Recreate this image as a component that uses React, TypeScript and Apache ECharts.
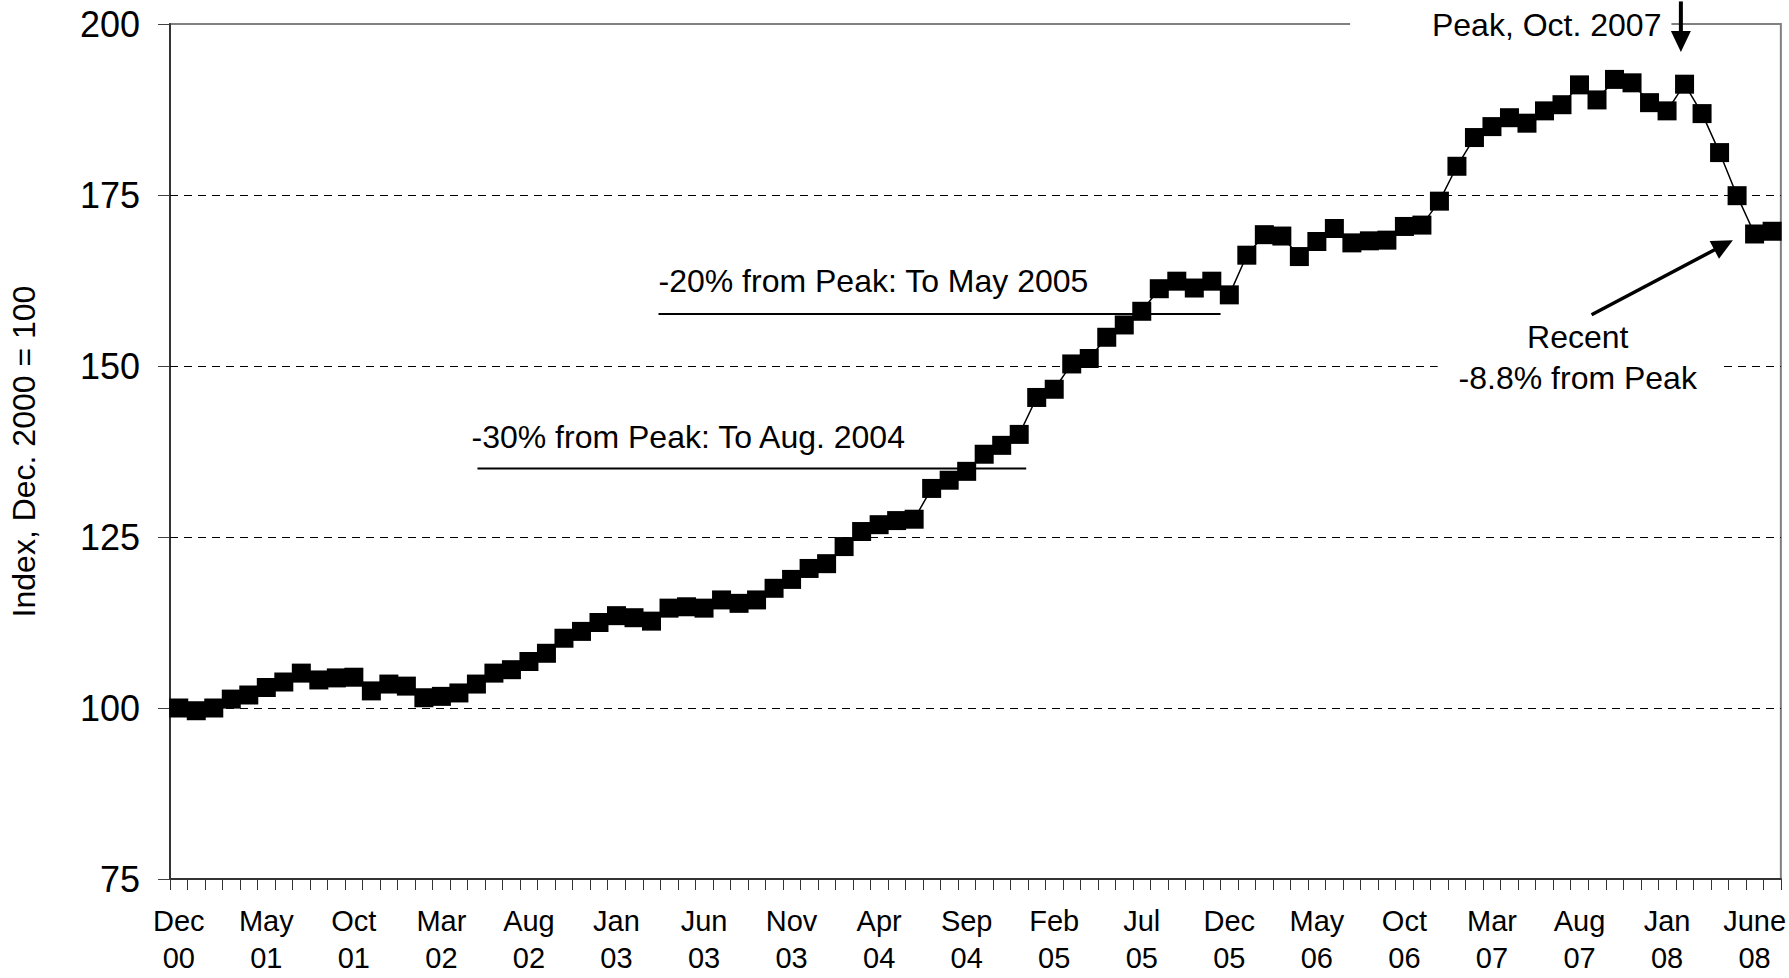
import React, { useEffect, useRef } from "react";
import * as echarts from "echarts";

const FONT = '"Liberation Sans", Arial, Helvetica, sans-serif';

const MONTHS = ["Jan", "Feb", "Mar", "Apr", "May", "Jun", "Jul", "Aug", "Sep", "Oct", "Nov", "Dec"];
// Monthly categories, Dec 2000 .. Jul 2008
const categories = Array.from(
  { length: 92 },
  (_, i) => `${MONTHS[(11 + i) % 12]} ${String(Math.floor((11 + i) / 12)).padStart(2, "0")}`
);

// Tick labels shown every 5th month
const tickLabels = [
  "Dec\n00", "May\n01", "Oct\n01", "Mar\n02", "Aug\n02", "Jan\n03", "Jun\n03",
  "Nov\n03", "Apr\n04", "Sep\n04", "Feb\n05", "Jul\n05", "Dec\n05", "May\n06",
  "Oct\n06", "Mar\n07", "Aug\n07", "Jan\n08", "June\n08",
];

// Index, Dec. 2000 = 100
const indexValues = [
  100.0, 99.6, 100.0, 101.3, 101.9, 103.0, 103.8, 105.1, 104.1, 104.4,
  104.5, 102.5, 103.5, 103.2, 101.5, 101.7, 102.2, 103.5, 105.1, 105.6,
  106.8, 108.0, 110.2, 111.2, 112.5, 113.5, 113.2, 112.7, 114.6, 114.8,
  114.6, 115.8, 115.3, 115.8, 117.5, 118.8, 120.4, 121.1, 123.6, 125.8,
  126.8, 127.4, 127.6, 132.1, 133.3, 134.6, 137.1, 138.4, 140.0, 145.4,
  146.6, 150.3, 151.1, 154.2, 156.0, 158.0, 161.3, 162.4, 161.4, 162.4,
  160.4, 166.2, 169.2, 169.0, 166.0, 168.2, 170.1, 168.0, 168.3, 168.4,
  170.4, 170.6, 174.1, 179.2, 183.4, 185.0, 186.3, 185.5, 187.3, 188.2,
  191.1, 188.9, 191.9, 191.4, 188.5, 187.3, 191.2, 186.9, 181.2, 174.9,
  169.3, 169.7,
];

const yMin = 75;
const yMax = 200;
const yStep = 25;
const dashedLevels = [100, 125, 150, 175];

// Annotation reference lines (month index, index value)
const line30 = [[17.06, 135.0], [48.4, 135.0]];
const line20 = [[27.4, 157.6], [59.5, 157.6]];

const text30 = "-30% from Peak: To Aug. 2004";
const text20 = "-20% from Peak: To May 2005";
const textPeak = "Peak, Oct. 2007";
const textRecent1 = "Recent";
const textRecent2 = "-8.8% from Peak";

export default function App() {
  const ref = useRef<HTMLDivElement>(null);

  useEffect(() => {
    document.body.style.margin = "0";
    if (!ref.current) return;
    const chart = echarts.init(ref.current, undefined, { renderer: "svg" });

    chart.setOption({
      animation: false,
      backgroundColor: "#ffffff",
      grid: {
        left: 168,
        right: 7,
        top: 24,
        bottom: 99,
        show: true,
        borderColor: "#808080",
        borderWidth: 2,
        backgroundColor: "transparent",
      },
      xAxis: [
        {
          type: "category",
          data: categories,
          boundaryGap: true,
          axisLine: { show: true, onZero: false, lineStyle: { color: "#333333", width: 2 } },
          axisTick: { show: true, interval: 0, length: 11, lineStyle: { color: "#333333", width: 1 } },
          axisLabel: {
            interval: 4,
            formatter: (_v: string, i: number) => (i % 5 === 0 ? tickLabels[i / 5] ?? "" : ""),
            fontFamily: FONT,
            fontSize: 29,
            lineHeight: 37,
            color: "#000",
            margin: 23,
          },
          splitLine: { show: false },
        },
        { type: "value", min: -0.5, max: 91.5, show: false },
      ],
      yAxis: {
        type: "value",
        min: yMin,
        max: yMax,
        interval: yStep,
        axisLine: { show: true, onZero: false, lineStyle: { color: "#333333", width: 2 } },
        axisTick: { show: true, length: 12, lineStyle: { color: "#404040", width: 1 } },
        axisLabel: { fontFamily: FONT, fontSize: 36, color: "#000", margin: 30 },
        splitLine: { show: false },
        name: "Index, Dec. 2000 = 100",
        nameLocation: "middle",
        nameGap: 130,
        nameTextStyle: { fontFamily: FONT, fontSize: 32, color: "#000" },
      },
      series: [
        {
          type: "line",
          data: indexValues,
          symbol: "rect",
          symbolSize: 19,
          showSymbol: true,
          showAllSymbol: true,
          itemStyle: { color: "#000" },
          lineStyle: { color: "#000", width: 1.5 },
          z: 5,
          markLine: {
            silent: true,
            symbol: ["none", "none"],
            label: { show: false },
            lineStyle: { color: "#000", width: 1, type: [8, 6] },
            data: dashedLevels.map((v) => ({ yAxis: v })),
            z: 1,
          },
        },
        {
          type: "line",
          xAxisIndex: 1,
          data: line30,
          symbol: "none",
          silent: true,
          lineStyle: { color: "#000", width: 2 },
          z: 3,
        },
        {
          type: "line",
          xAxisIndex: 1,
          data: line20,
          symbol: "none",
          silent: true,
          lineStyle: { color: "#000", width: 2 },
          z: 3,
        },
      ],
    });

    const px = (x: number, y: number) =>
      chart.convertToPixel({ xAxisIndex: 1, yAxisIndex: 0 }, [x, y]) as number[];

    const arrow = (tail: number[], tip: number[], headLen: number, headHalf: number, width: number) => {
      const dx = tip[0] - tail[0];
      const dy = tip[1] - tail[1];
      const len = Math.hypot(dx, dy);
      const ux = dx / len;
      const uy = dy / len;
      const nx = -uy;
      const ny = ux;
      const bx = tip[0] - ux * headLen;
      const by = tip[1] - uy * headLen;
      return [
        {
          type: "line",
          z: 120,
          shape: { x1: tail[0], y1: tail[1], x2: bx + ux * 2, y2: by + uy * 2 },
          style: { stroke: "#000", lineWidth: width },
        },
        {
          type: "polygon",
          z: 120,
          shape: {
            points: [
              [tip[0], tip[1]],
              [bx + nx * headHalf, by + ny * headHalf],
              [bx - nx * headHalf, by - ny * headHalf],
            ],
          },
          style: { fill: "#000" },
        },
      ];
    };

    const box = (a: number[], b: number[]) => ({
      type: "rect",
      z: 110,
      shape: { x: Math.min(a[0], b[0]), y: Math.min(a[1], b[1]), width: Math.abs(b[0] - a[0]), height: Math.abs(b[1] - a[1]) },
      style: { fill: "#ffffff" },
    });

    const text = (t: string, p: number[], align: string) => ({
      type: "text",
      z: 115,
      x: p[0],
      y: p[1],
      style: {
        text: t,
        fill: "#000",
        fontFamily: FONT,
        fontSize: 32,
        textAlign: align,
        textVerticalAlign: "middle",
        align: align,
        verticalAlign: "middle",
      },
    });

    const elements: any[] = [
      box(px(66.9, 202.6), px(85.25, 197.2)),
      box(px(71.9, 157.1), px(88.04, 145.3)),
      text(text30, px(16.72, 139.6), "left"),
      text(text20, px(27.4, 162.5), "left"),
      text(textPeak, px(84.68, 199.8), "right"),
      text(textRecent1, px(79.9, 154.3), "center"),
      text(textRecent2, px(79.9, 148.3), "center"),
      ...arrow(px(85.79, 203.3), px(85.79, 195.9), 21, 10, 4),
      ...arrow(px(80.69, 157.5), px(88.76, 168.4), 21, 10, 3.5),
    ];

    chart.setOption({ graphic: elements });

    return () => chart.dispose();
  }, []);

  return <div ref={ref} style={{ width: 1789, height: 978 }} />;
}
